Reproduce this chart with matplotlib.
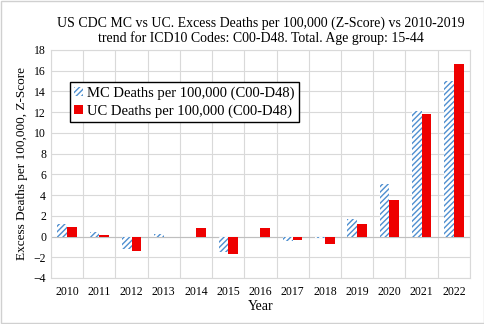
import matplotlib.pyplot as plt
import numpy as np

years = [str(y) for y in range(2010, 2023)]
mc_values = [1.2, 0.4, -1.2, 0.25, 0.0, -1.5, -0.05, -0.45, -0.1, 1.7, 5.1, 12.1, 15.0]
uc_values = [0.95, 0.15, -1.35, 0.0, 0.8, -1.65, 0.85, -0.3, -0.7, 1.2, 3.5, 11.8, 16.6]

plt.rcParams['font.family'] = ['Liberation Serif', 'DejaVu Serif']
plt.rcParams['hatch.linewidth'] = 1.0

fig = plt.figure(figsize=(4.85, 3.24), dpi=100)
ax = fig.add_axes([0.105, 0.142, 0.864, 0.704])

x = np.arange(len(years))
width = 0.3
ax.bar(x - width / 2, mc_values, width, facecolor='white', edgecolor='#4f8fd0',
       hatch='//////', linewidth=0, label='MC Deaths per 100,000 (C00-D48)', zorder=3)
ax.bar(x + width / 2, uc_values, width, color='#ee0000',
       label='UC Deaths per 100,000 (C00-D48)', zorder=3)

ax.set_xlim(-0.5, len(years) - 0.5)
ax.set_ylim(-4, 18)
ax.set_yticks(range(-4, 19, 2))
ax.set_xticks(x)
ax.set_xticklabels(years)
ax.set_xticks(np.arange(-0.5, len(years), 1), minor=True)
ax.tick_params(axis='both', which='both', length=0, labelsize=8.5)
ax.tick_params(axis='x', pad=6)
ax.grid(axis='y', color='#d9d9d9', linewidth=0.8, zorder=0)
ax.grid(axis='x', which='minor', color='#d9d9d9', linewidth=0.8, zorder=0)
ax.axhline(0, color='#bfbfbf', linewidth=0.8, zorder=2)
for s in ax.spines.values():
    s.set_color('#d9d9d9')

ax.set_xlabel('Year', fontsize=10, labelpad=1)
ax.set_ylabel('Excess Deaths per 100,000, Z-Score', fontsize=9.5, labelpad=4)
ax.set_title('US CDC MC vs UC. Excess Deaths per 100,000 (Z-Score) vs 2010-2019\n'
             'trend for ICD10 Codes: C00-D48. Total. Age group: 15-44',
             fontsize=10, pad=6, linespacing=1.05)

leg = ax.legend(loc='upper left', bbox_to_anchor=(0.045, 0.86), fontsize=10.5,
                frameon=True, fancybox=False, edgecolor='black', framealpha=1,
                handlelength=0.6, handleheight=0.6, handletextpad=0.3,
                borderpad=0.3, labelspacing=0.3, borderaxespad=0)
leg.get_frame().set_linewidth(1.0)
leg.set_zorder(5)

fig.patches.append(plt.Rectangle((0.002, 0.003), 0.996, 0.994, transform=fig.transFigure,
                                 fill=False, edgecolor='#d0d0d0', linewidth=1))

fig.savefig('out.png', dpi=100)
